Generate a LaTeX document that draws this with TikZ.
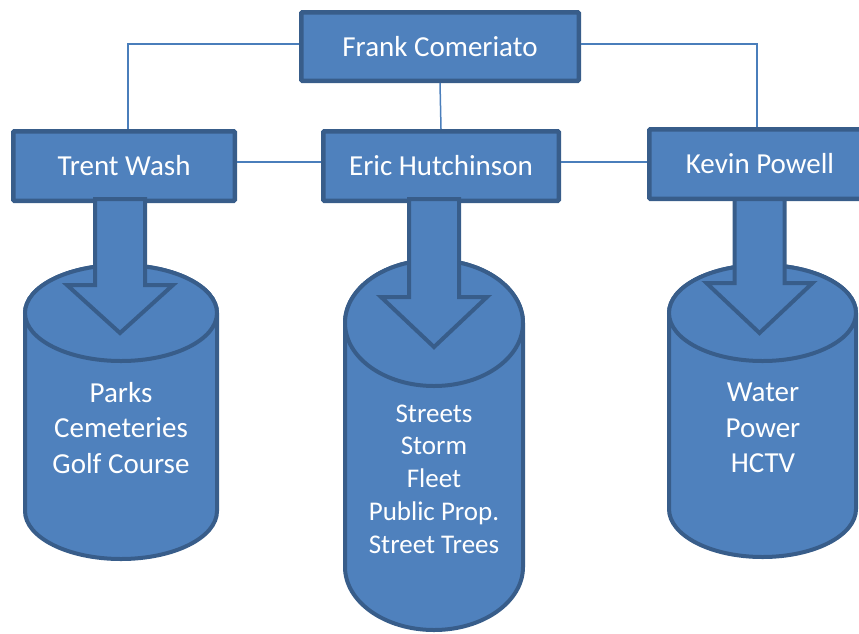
\documentclass[tikz,border=0pt]{standalone}
\usepackage{fontspec}
\setmainfont{Carlito}
\usetikzlibrary{calc}

\definecolor{boxfill}{HTML}{4F81BD}
\definecolor{boxline}{HTML}{385D8A}
\definecolor{linkline}{HTML}{4A7EBB}

\begin{document}
\begin{tikzpicture}[x=1pt, y=-1pt,
  person/.style={rectangle, draw=boxline, fill=boxfill, line width=4.5pt, rounded corners=1pt, text=white, font=\fontsize{29}{35}\selectfont, minimum height=69.5pt, inner sep=0pt},
  link/.style={draw=linkline, line width=1.5pt},
  bigarrow/.style={draw=boxline, fill=boxfill, line width=4pt, line join=miter},
  drum/.style={draw=boxline, fill=boxfill, line width=4pt},
  drumtext/.style={text=white, align=center, inner sep=0pt}]
  \useasboundingbox (0,0) rectangle (859,633);

  % people
  \node[person, minimum width=277.5pt, minimum height=68.5pt] (frank) at (440,46.5) {Frank Comeriato};
  \node[person, minimum width=221.5pt] (trent) at (124,166) {Trent Wash};
  \node[person, minimum width=235.5pt] (eric) at (441,166) {Eric Hutchinson};
  \node[person, minimum width=221.5pt] (kevin) at (760,164) {Kevin Powell};

  \draw[link] ($(frank.west)+(0,-2.5)$) -| ($(trent.north)+(4,0)$);
  \draw[link] ($(frank.east)+(0,-2.5)$) -| ($(kevin.north)+(-3,0)$);
  \draw[link] (frank.south) -- (eric.north);
  \draw[link] ($(trent.east)+(0,-4)$) -- ($(eric.west)+(0,-4)$);
  \draw[link] ($(eric.east)+(0,-4)$) -- ($(kevin.west)+(0,-2)$);

  % drums
  \foreach \cx/\rx/\yt/\yb/\ry in {121/96/313/511/48, 434/89/323/567/63, 762.5/93.5/313/509/48} {
    \draw[drum] (\cx-\rx,\yt) -- (\cx-\rx,\yb) arc[start angle=180, end angle=360, x radius=\rx pt, y radius=\ry pt]
      -- (\cx+\rx,\yt) arc[start angle=0, end angle=180, x radius=\rx pt, y radius=\ry pt] -- cycle;
    \draw[drum] (\cx,\yt) ellipse[x radius=\rx pt, y radius=\ry pt];
  }

  % block arrows
  \foreach \cx/\top/\sh/\tip in {120/199/285/333, 434/199/297/347, 759.5/199/283/333} {
    \draw[bigarrow] (\cx-25,\top) -- (\cx-25,\sh) -- (\cx-53,\sh) -- (\cx,\tip)
      -- (\cx+53,\sh) -- (\cx+25,\sh) -- (\cx+25,\top) -- cycle;
  }

  \node[drumtext, font=\fontsize{29}{35.5}\selectfont] (parks) at (121,428) {Parks\\Cemeteries\\Golf Course};
  \node[drumtext, font=\fontsize{27}{32.8}\selectfont] (streets) at (434,479) {Streets\\Storm\\Fleet\\Public Prop.\\Street Trees};
  \node[drumtext, font=\fontsize{29}{35.5}\selectfont] (water) at (763,428) {Water\\Power\\HCTV};
\end{tikzpicture}
\end{document}
